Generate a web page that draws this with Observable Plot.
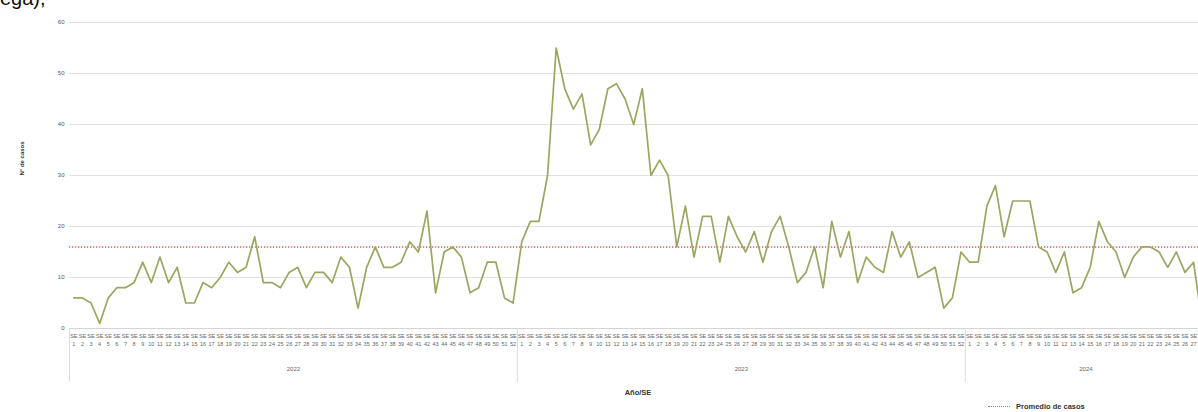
<!DOCTYPE html>
<html>
<head>
<meta charset="utf-8">
<script src="https://cdn.jsdelivr.net/npm/d3@7"></script>
<script src="https://cdn.jsdelivr.net/npm/@observablehq/plot@0.6"></script>
<style>
  html, body { margin: 0; padding: 0; background: #fff; overflow: hidden; width: 1198px; height: 412px; }
  #wrap { position: relative; width: 1198px; height: 412px; overflow: hidden; }
  #chart svg { max-width: none !important; display: block; }
  #cut { position: absolute; left: 0px; top: -13px; font: 20px "Liberation Sans", Arial, sans-serif; color: #111; }
  #legend { position: absolute; left: 988px; top: 402px; font: bold 7.5px "Liberation Sans", Arial, sans-serif; color: #333; display: flex; align-items: center; gap: 6px; }
  #legend .sw { width: 22px; height: 0; border-top: 1.5px dotted #e05a5a; }
</style>
</head>
<body>
<div id="wrap">
  <div id="chart"></div>
  <div id="cut">ega),</div>
  <div id="legend"><span class="sw"></span><span>Promedio de casos</span></div>
</div>
<script>
const years = ["2022", "2023", "2024"];
const cases2022 = [6,6,5,1,6,8,8,9,13,9,14,9,12,5,5,9,8,10,13,11,12,18,9,9,8,11,12,8,11,11,9,14,12,4,12,16,12,12,13,17,15,23,7,15,16,14,7,8,13,13,6,5];
const cases2023 = [17,21,21,30,55,47,43,46,36,39,47,48,45,40,47,30,33,30,16,24,14,22,22,13,22,18,15,19,13,19,22,16,9,11,16,8,21,14,19,9,14,12,11,19,14,17,10,11,12,4,6,15];
const cases2024 = [13,13,24,28,18,25,25,25,16,15,11,15,7,8,12,21,17,15,10,14,16,16,15,12,15,11,13,1];
const averageCases = 16;
const yTicks = [0, 10, 20, 30, 40, 50, 60];
const lastLabeledWeek2024 = 27;

const series = [cases2022, cases2023, cases2024];
const rows = [];
const yearLabels = [];
const boundaries = [];
series.forEach((vals, k) => {
  const start = rows.length;
  boundaries.push(start - 0.5);
  vals.forEach((v, j) => rows.push({i: rows.length, year: years[k], week: j + 1, value: v}));
  yearLabels.push({year: years[k], mid: (start + rows.length - 1) / 2});
});
const labelRows = rows.filter(r => !(r.year === "2024" && r.week > lastLabeledWeek2024));

const chart = Plot.plot({
  width: 1210,
  height: 412,
  marginLeft: 69,
  marginRight: 4,
  marginTop: 22,
  marginBottom: 84,
  style: {fontFamily: "'Liberation Sans', Arial, sans-serif", background: "white", color: "#555", maxWidth: "none"},
  x: {domain: [-0.5, rows.length - 0.5], axis: null},
  y: {domain: [0, 60], axis: null},
  marks: [
    Plot.gridY(yTicks.filter(t => t > 0), {stroke: "#e2e2e2", strokeOpacity: 1}),
    Plot.ruleY([0], {stroke: "#d4d4d4"}),
    Plot.axisY(yTicks, {tickSize: 0, tickPadding: 5, fontSize: 6, fill: "#555", label: null}),
    Plot.ruleY([averageCases], {stroke: "#e05a5a", strokeDasharray: "1.2,1.8", strokeWidth: 1.5}),
    Plot.line(rows, {x: "i", y: "value", stroke: "#9da561", strokeWidth: 1.7}),
    Plot.text(labelRows, {x: "i", text: () => "SE", frameAnchor: "bottom", dy: 9, fontSize: 5.5, fill: "#666"}),
    Plot.text(labelRows, {x: "i", text: d => String(d.week), frameAnchor: "bottom", dy: 17, fontSize: 5.5, fill: "#666"}),
    Plot.ruleX(boundaries, {x: d => d, y1: 0, y2: -10.5, stroke: "#dcdcdc"}),
    Plot.text(yearLabels, {x: "mid", text: "year", frameAnchor: "bottom", dy: 42, fontSize: 6, fill: "#666"}),
    Plot.text(["Año/SE"], {text: d => d, frameAnchor: "bottom", dy: 66, fontWeight: "bold", fontSize: 7.5, fill: "#333"}),
    Plot.text(["N° de casos"], {text: d => d, frameAnchor: "left", dx: -47, rotate: -90, fontWeight: "bold", fontSize: 6, fill: "#333"})
  ]
});
document.getElementById("chart").appendChild(chart);
</script>
</body>
</html>
